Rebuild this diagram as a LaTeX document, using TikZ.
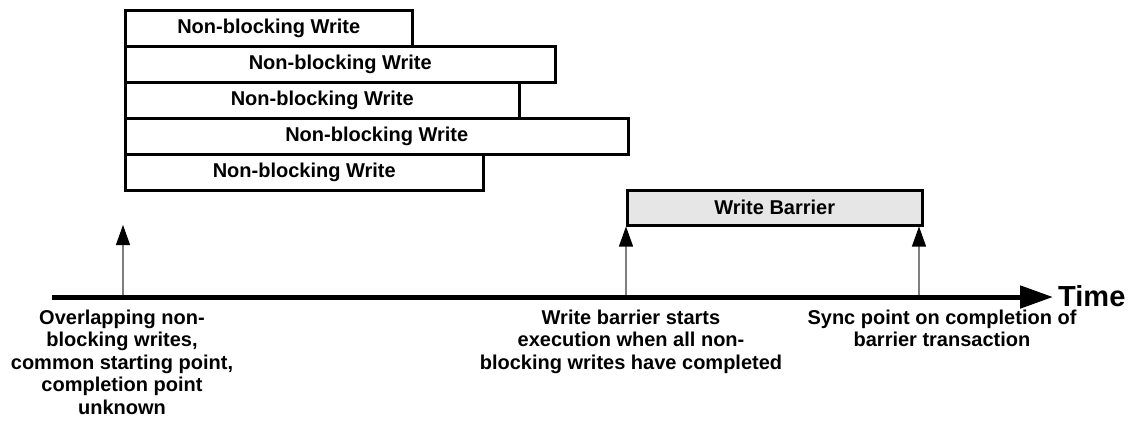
\documentclass[tikz,border=0pt]{standalone}
\usepackage{fontspec}
\setmainfont{Liberation Sans}
\usetikzlibrary{arrows.meta}
\definecolor{barrierfill}{HTML}{E6E6E6}
\definecolor{shaftgray}{HTML}{7F7F7F}
\tikzset{
  lbl/.style={font=\fontsize{20}{22.5}\selectfont\bfseries, align=center, inner sep=0pt},
  wbox/.style={draw=black, line width=2.5pt, fill=white, anchor=north west,
    minimum height=36pt, inner sep=0pt, lbl},
  bbox/.style={wbox, fill=barrierfill, minimum height=35pt},
  marker/.style={draw=shaftgray, line width=1.2pt,
    -{Triangle[length=20pt, width=14pt, color=black]}},
  timeline/.style={draw=black, line width=5pt,
    -{Triangle[length=33pt, width=22pt]}},
  note/.style={lbl, anchor=north}
}
\begin{document}
\begin{tikzpicture}[x=1pt, y=-1pt]
  \useasboundingbox (0,0) rectangle (1133,421);

  % overlapping non-blocking writes, all starting at the same point
  \node[wbox, minimum width=287pt] (w1) at (124,9)   {Non-blocking Write};
  \node[wbox, minimum width=430pt] (w2) at (124,45)  {Non-blocking Write};
  \node[wbox, minimum width=394pt] (w3) at (124,81)  {Non-blocking Write};
  \node[wbox, minimum width=503pt] (w4) at (124,117) {Non-blocking Write};
  \node[wbox, minimum width=358pt] (w5) at (124,153) {Non-blocking Write};

  % barrier transaction
  \node[bbox, minimum width=295pt] (wb) at (626,189) {Write Barrier};

  % time axis
  \coordinate (ts) at (52,297);
  \coordinate (te) at (1053,297);
  \draw[timeline] (ts) -- (te);
  \node[lbl, font=\fontsize{29}{30}\selectfont\bfseries, anchor=west] (time) at (1058,296) {Time};

  % event markers on the axis
  \coordinate (t1) at (123,295);
  \coordinate (t2) at (626,295);
  \coordinate (t3) at (919,295);
  \coordinate (a1) at (123,225);
  \draw[marker] (t1) -- (a1);
  \draw[marker] (t2) -- (wb.south west);
  \draw[marker] (t3) -- (wb.south east -| t3);

  % captions
  \node[note] (l1) at (122,309.5) {Overlapping non-\\blocking writes,\\common starting point,\\completion point\\unknown};
  \node[note] (l2) at (631,309.5) {Write barrier starts\\execution when all non-\\blocking writes have completed};
  \node[note] (l3) at (942,309.5) {Sync point on completion of\\barrier transaction};
\end{tikzpicture}
\end{document}
